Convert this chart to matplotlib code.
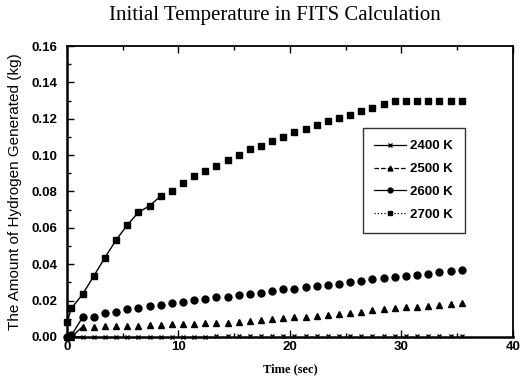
import numpy as np
import matplotlib
matplotlib.use('Agg')
import matplotlib.pyplot as plt
from matplotlib.lines import Line2D
from matplotlib.ticker import MultipleLocator, FormatStrFormatter

# time (sec) of each sample
time = [0.0, 0.4] + [1.4 + i for i in range(35)]

h2_2400 = [0.0, 0.0, 0.0001, 0.0001, 0.0001, 0.0001, 0.0001, 0.0002, 0.0002, 0.0002,
           0.0002, 0.0002, 0.0002, 0.0002, 0.0003, 0.0003, 0.0003, 0.0003, 0.0003, 0.0003,
           0.0003, 0.0003, 0.0004, 0.0004, 0.0004, 0.0004, 0.0004, 0.0004, 0.0004, 0.0004,
           0.0005, 0.0005, 0.0005, 0.0005, 0.0005, 0.0005, 0.0005]
h2_2500 = [0.0, 0.0, 0.0057, 0.0057, 0.0062, 0.0062, 0.0062, 0.0062, 0.0066, 0.0066,
           0.0070, 0.0071, 0.0071, 0.0075, 0.0079, 0.0079, 0.0084, 0.0090,
           0.0093, 0.0097, 0.0103, 0.0108, 0.0112, 0.0117, 0.0121, 0.0125, 0.0134, 0.0139,
           0.0148, 0.0152, 0.0158, 0.0163, 0.0167, 0.0170, 0.0176, 0.0180, 0.0185]
h2_2600 = [0.0, 0.001, 0.0108, 0.0112, 0.0130, 0.0136, 0.0152, 0.0159, 0.0170, 0.0177,
           0.0185, 0.0190, 0.0202, 0.0209, 0.0218, 0.0221, 0.0229, 0.0236,
           0.0243, 0.0253, 0.0262, 0.0265, 0.0273, 0.0280, 0.0284, 0.0291, 0.0304, 0.0309,
           0.0317, 0.0323, 0.0330, 0.0337, 0.0342, 0.0348, 0.0357, 0.0363, 0.0368]
h2_2700 = [0.008, 0.0158, 0.0235, 0.0335, 0.0436, 0.0533, 0.0615, 0.0685, 0.0721, 0.0775,
           0.0804, 0.0848, 0.0883, 0.0915, 0.0941, 0.0973, 0.0998, 0.1033, 0.1049, 0.1077,
           0.1097, 0.1126, 0.1143, 0.1165, 0.1188, 0.1205, 0.1220, 0.1242, 0.1260, 0.1280,
           0.1297, 0.1297, 0.1297, 0.1297, 0.1297, 0.1297, 0.1297]

labels = ['2400 K', '2500 K', '2600 K', '2700 K']

fig = plt.figure(figsize=(5.21, 3.78), dpi=100)
ax = fig.add_axes([0.1286, 0.1085, 0.856, 0.7698])

series = [(h2_2400, 'x', 2.5, '-', 3),
          (h2_2500, '^', 5.0, '--', 3),
          (h2_2600, 'o', 5.0, '-', 3),
          (h2_2700, 's', 5.0, ':', 10)]

handles = []
for (vals, mk, ms, ls, nline), lab in zip(series, labels):
    # markers everywhere, the connecting line only shows in the early part
    ax.plot(time, vals, linestyle='none', marker=mk, ms=ms, color='black', clip_on=False, zorder=2)
    ax.plot(time[:nline], vals[:nline], '-', lw=1.0, color='black', zorder=2)
    handles.append(Line2D([], [], color='black', lw=0.9, linestyle=ls, marker=mk, ms=3.5))

ax.set_xlim(0, 40)
ax.set_ylim(0, 0.16)
ax.xaxis.set_major_locator(MultipleLocator(10))
ax.xaxis.set_minor_locator(MultipleLocator(5))
ax.yaxis.set_major_locator(MultipleLocator(0.02))
ax.yaxis.set_minor_locator(MultipleLocator(0.01))
ax.yaxis.set_major_formatter(FormatStrFormatter('%.2f'))
ax.tick_params(which='both', direction='in', top=True, right=False, width=1.0)
ax.tick_params(which='major', length=5, labelsize=9.5)
ax.tick_params(which='minor', length=3)
ax.tick_params(axis='y', pad=7)
ax.tick_params(axis='x', pad=3)
for lab in ax.get_xticklabels() + ax.get_yticklabels():
    lab.set_family('Liberation Sans')
    lab.set_fontweight('bold')
for s in ax.spines.values():
    s.set_linewidth(1.3)
    s.set_zorder(3)
ax.spines['bottom'].set_linewidth(1.8)
ax.spines['left'].set_linewidth(1.8)

ax.set_xlabel('Time (sec)', family='Liberation Serif', fontweight='bold', fontsize=9, labelpad=7)
ax.set_ylabel('The Amount of Hydrogen Generated (kg)', family='Liberation Sans', fontsize=11, labelpad=7)
fig.text(0.527, 0.958, 'Initial Temperature in FITS Calculation', family='Liberation Serif',
         fontsize=15, ha='center', va='center')

leg = ax.legend(handles, labels, loc='upper left', bbox_to_anchor=(0.648, 0.74),
                frameon=True, fancybox=False, edgecolor='black', handlelength=2.4,
                handletextpad=0.3, labelspacing=0.8, borderpad=0.9,
                prop={'family': 'Liberation Sans', 'weight': 'bold', 'size': 9.5})
leg.get_frame().set_linewidth(1.0)

fig.savefig('out.png', dpi=100)
